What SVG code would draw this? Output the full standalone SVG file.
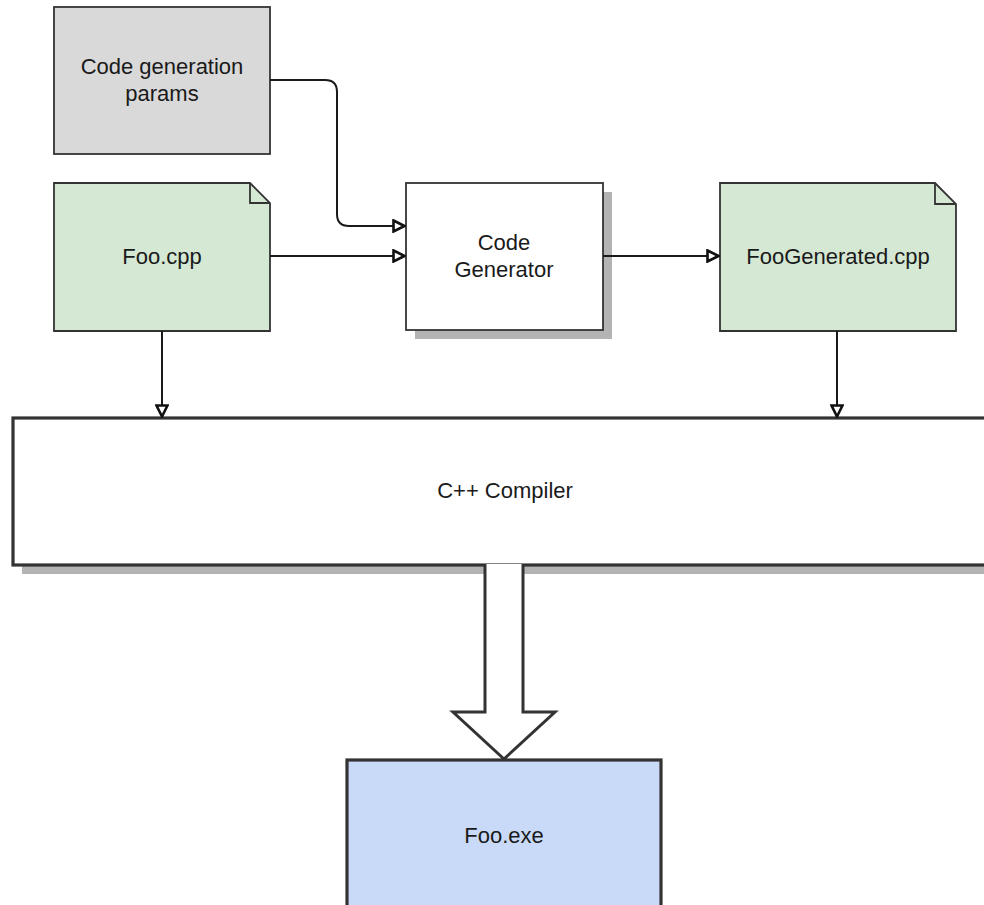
<svg xmlns="http://www.w3.org/2000/svg" width="984" height="905" viewBox="0 0 984 905">
  <style>
    .lbl { font-family: "Liberation Sans", Arial, sans-serif; font-size: 22px; fill: #1a1a1a; text-anchor: middle; }
    .box { stroke: #333333; stroke-width: 1.8; }
    .thick { stroke: #333333; stroke-width: 3.2; }
    .shadow { fill: #b3b3b3; stroke: none; }
    .edge { fill: none; stroke: #1a1a1a; stroke-width: 2; }
  </style>
  <defs>
    <marker id="open" viewBox="0 0 14 14" refX="13" refY="7" markerWidth="14" markerHeight="14" markerUnits="userSpaceOnUse" orient="auto">
      <path d="M1.5,1.5 L12.5,7 L1.5,12.5 Z" fill="#ffffff" stroke="#111111" stroke-width="2.6" stroke-linejoin="miter"/>
    </marker>
  </defs>
  <rect width="984" height="905" fill="#ffffff"/>

  <!-- input parameters -->
  <g id="params">
    <rect class="box" x="54" y="7" width="216" height="147" fill="#d9d9d9"/>
    <text class="lbl" x="162" y="74">Code generation</text>
    <text class="lbl" x="162" y="101">params</text>
  </g>

  <!-- source file -->
  <g id="foo-cpp">
    <path class="box" d="M54,183 H250 L270,203 V331 H54 Z" fill="#d5e8d4"/>
    <path class="box" d="M250,183 V203 H270" fill="none"/>
    <text class="lbl" x="162" y="264">Foo.cpp</text>
  </g>

  <!-- generator -->
  <g id="code-generator">
    <rect class="shadow" x="415" y="192" width="197" height="147"/>
    <rect class="box" x="406" y="183" width="197" height="147" fill="#ffffff"/>
    <text class="lbl" x="504" y="250">Code</text>
    <text class="lbl" x="504" y="277">Generator</text>
  </g>

  <!-- generated file -->
  <g id="foo-generated">
    <path class="box" d="M720,183 H935 L956,204 V331 H720 Z" fill="#d5e8d4"/>
    <path class="box" d="M935,183 V204 H956" fill="none"/>
    <text class="lbl" x="838" y="264">FooGenerated.cpp</text>
  </g>

  <!-- compiler -->
  <g id="compiler">
    <rect class="shadow" x="22" y="427" width="984" height="147"/>
    <rect class="thick" x="13" y="418" width="984" height="147" fill="#ffffff"/>
    <text class="lbl" x="505" y="498">C++ Compiler</text>
  </g>

  <!-- executable -->
  <g id="foo-exe">
    <rect class="thick" x="347" y="760" width="314" height="160" fill="#c9daf8"/>
    <text class="lbl" x="504" y="843">Foo.exe</text>
  </g>

  <!-- connectors -->
  <g id="connectors">
    <path class="edge" d="M270,80 H325 Q337,80 337,92 V214 Q337,226 349,226 H405" marker-end="url(#open)"/>
    <path class="edge" d="M270,256 H405" marker-end="url(#open)"/>
    <path class="edge" d="M603,256 H719" marker-end="url(#open)"/>
    <path class="edge" d="M162,331 V417" marker-end="url(#open)"/>
    <path class="edge" d="M837,331 V417" marker-end="url(#open)"/>
    <path d="M485,564 V712 H453 L504,759 L555,712 H523 V564" fill="#ffffff" stroke="#333333" stroke-width="3" stroke-linejoin="miter"/>
  </g>
</svg>
